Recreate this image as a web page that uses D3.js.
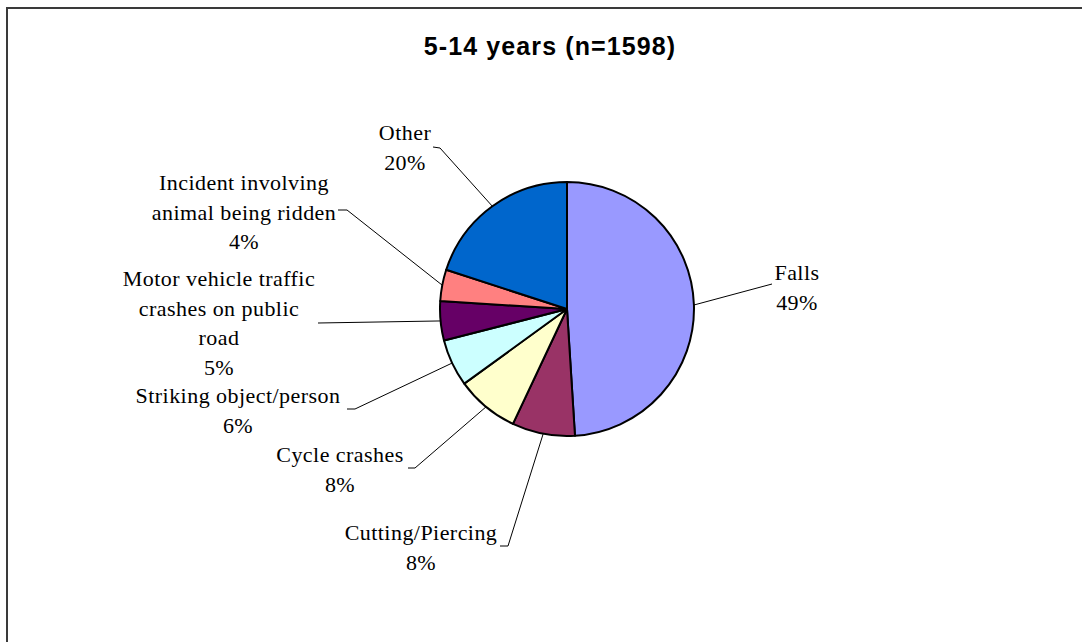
<!DOCTYPE html>
<html>
<head>
<meta charset="utf-8">
<script src="https://cdn.jsdelivr.net/npm/d3@7"></script>
<style>
  html, body { margin: 0; padding: 0; background: #fff; overflow: hidden; }
  svg { display: block; }
</style>
</head>
<body>
<svg id="chart" width="1082" height="642"></svg>
<script>
// ---- data ----
const title = "5-14 years (n=1598)";
const categories = ["Falls", "Cutting/Piercing", "Cycle crashes", "Striking object/person",
  "Motor vehicle traffic crashes on public road", "Incident involving animal being ridden", "Other"];
const values = [49, 8, 8, 6, 5, 4, 20];
const percentLabels = ["49%", "8%", "8%", "6%", "5%", "4%", "20%"];
const labelLines = [
  ["Falls"],
  ["Cutting/Piercing"],
  ["Cycle crashes"],
  ["Striking object/person"],
  ["Motor vehicle traffic", "crashes on public", "road"],
  ["Incident involving", "animal being ridden"],
  ["Other"]
];

// ---- style / layout (separate from data) ----
const colors = ["#9999FF", "#993366", "#FFFFCC", "#CCFFFF", "#660066", "#FF8080", "#0066CC"];
const cx = 567, cy = 309, radius = 127;
const lineH = 29.5;
// label placement: centre x, first baseline y, leader start [x,y], optional tick end
const labelLayout = [
  { x: 797, y: 280, lead: [[772, 284]] },
  { x: 421, y: 540, lead: [[500, 546], [508, 546]] },
  { x: 340, y: 462, lead: [[408, 468], [415, 468]] },
  { x: 238, y: 403, lead: [[347, 409], [355, 409]] },
  { x: 219, y: 286, lead: [[318, 323]] },
  { x: 244, y: 190, lead: [[338, 210], [347, 210]] },
  { x: 405, y: 140, lead: [[433, 147], [440, 148]] }
];

const svg = d3.select("#chart");

// frame (top and left edges visible)
svg.append("path")
  .attr("d", "M7,642 L7,8 L1082,8")
  .attr("fill", "none")
  .attr("stroke", "#3a3a3a")
  .attr("stroke-width", 2);

// title
svg.append("text")
  .attr("x", 550).attr("y", 55)
  .attr("text-anchor", "middle")
  .attr("font-family", "'Liberation Sans', Arial, sans-serif")
  .attr("font-weight", "bold")
  .attr("font-size", 25)
  .attr("letter-spacing", "1.1px")
  .text(title);

const data = categories.map((c, i) => ({ cat: c, value: values[i], i }));
const pie = d3.pie().sort(null).value(d => d.value).startAngle(0).endAngle(2 * Math.PI);
const arcs = pie(data);
const arc = d3.arc().innerRadius(0).outerRadius(radius);

const g = svg.append("g").attr("transform", `translate(${cx},${cy})`);
g.selectAll("path.slice")
  .data(arcs)
  .join("path")
  .attr("class", "slice")
  .attr("d", arc)
  .attr("fill", d => colors[d.data.i])
  .attr("stroke", "#000")
  .attr("stroke-width", 2)
  .attr("stroke-linejoin", "round");

// leader lines
const line = d3.line();
arcs.forEach(a => {
  const mid = (a.startAngle + a.endAngle) / 2;
  const edge = [cx + radius * Math.sin(mid), cy - radius * Math.cos(mid)];
  const L = labelLayout[a.data.i];
  const pts = L.lead.concat([edge]);
  svg.append("path")
    .attr("d", line(pts))
    .attr("fill", "none")
    .attr("stroke", "#000")
    .attr("stroke-width", 1);
});

// labels
arcs.forEach(a => {
  const i = a.data.i;
  const L = labelLayout[i];
  const lines = labelLines[i].concat([percentLabels[i]]);
  const t = svg.append("text")
    .attr("text-anchor", "middle")
    .attr("font-family", "'Liberation Serif', 'Times New Roman', serif")
    .attr("font-size", 22)
    .attr("letter-spacing", "0.45px")
    .attr("fill", "#000");
  lines.forEach((s, k) => {
    t.append("tspan").attr("x", L.x).attr("y", L.y + k * lineH).text(s);
  });
});
</script>
</body>
</html>
